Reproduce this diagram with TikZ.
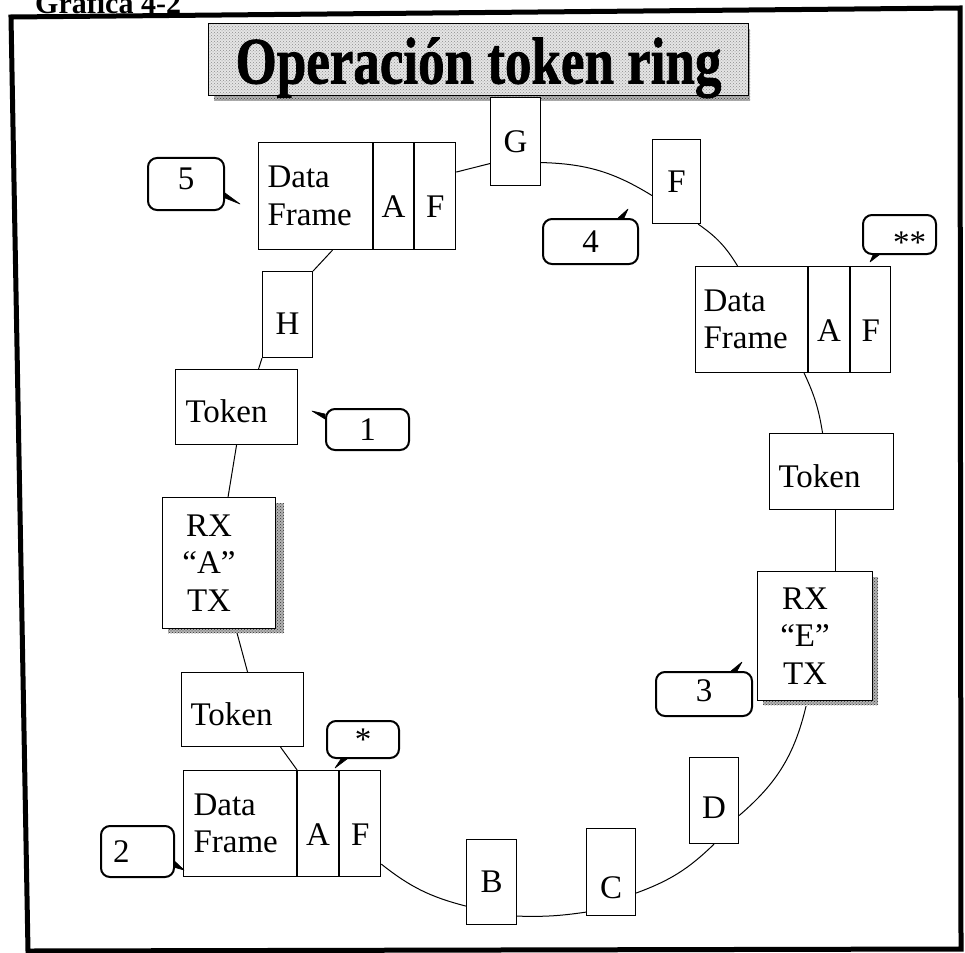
\documentclass[tikz,border=0pt]{standalone}
\usepackage{fontspec}
\usepackage{graphicx}
\setmainfont{Liberation Serif}
\newfontfamily\ttlfam[BoldFeatures={FakeBold=1.3}]{Liberation Serif}
\usetikzlibrary{patterns,calc}
\newcommand\bxfont{\fontsize{33}{37.5}\selectfont}
\newcommand\ttlfont{\ttlfam\bfseries\fontsize{53}{60}\selectfont}
\begin{document}
\begin{tikzpicture}[x=1pt,y=-1pt,
 box/.style={draw, line width=1.1pt, fill=white, inner sep=0pt, font=\bxfont, anchor=north west},
 cell/.style={box, minimum height=106pt, text height=43.8pt, text depth=0pt},
 tokbox/.style={box, text height=31.8pt, text depth=0pt, align=left},
 dfbox/.style={box, minimum height=106pt, align=left},
 rxbox/.style={box, align=center, text width=93pt},
 bubble/.style={draw, line width=2pt, rounded corners=9pt, fill=white, inner sep=0pt, font=\bxfont, anchor=north west},
 link/.style={line width=1pt},
 tailfill/.style={fill=black, draw=black, line width=0.6pt, line join=round},
 stipple/.style={pattern=crosshatch dots, pattern color=black!80, preaction={fill=black!30}},
]
\useasboundingbox (0,0) rectangle (965,952);
\clip (0,0) rectangle (965,952);
\fill[white] (0,0) rectangle (965,952);

% heading
\node[font=\bfseries\fontsize{30}{36}\selectfont, anchor=base west, inner sep=0pt] (grafica) at (35,14) {Gráfica 4-2};

% title
\fill[stipple] (214,29) rectangle (750,101);
\node[draw, line width=1pt, anchor=north west, minimum width=540pt, minimum height=72pt, inner sep=0pt,
      pattern=crosshatch dots, pattern color=black!45, preaction={fill=black!10},
      text height=48pt, text depth=0pt] (title) at (208,23) {\ttlfont\scalebox{1}[1.25]{Operación token ring}};

% ring boxes
\node[box, minimum width=50pt, minimum height=88pt] (G) at (490,97) {G};
\node[box, minimum width=48pt, minimum height=84pt] (F1) at (652,139) {F};

\node[dfbox, minimum width=112pt, text width=96pt] (dfR) at (695,266) {Data\\Frame};
\node[cell, minimum width=41pt] (dfRa) at (dfR.north east) {A};
\node[cell, minimum width=40pt] (dfRf) at (dfRa.north east) {F};

\node[tokbox, minimum width=124pt, minimum height=76pt, text width=106pt] (tokR) at (769,433) {Token};

\fill[stipple] (763,577) rectangle (878,705);
\node[rxbox, minimum width=115pt, minimum height=129pt] (rxE) at (757,571)
  {\mbox{RX\hspace{20pt}}\\\mbox{“E”\hspace{20pt}}\\\mbox{TX\hspace{20pt}}};

\node[box, minimum width=49pt, minimum height=86pt, text height=35.8pt, text depth=0pt] (D) at (689,757) {D};
\node[box, minimum width=49pt, minimum height=87pt, text height=53.8pt, text depth=0pt] (C) at (586,828) {C};
\node[box, minimum width=50pt, minimum height=85pt] (B) at (466,839) {B};

\node[dfbox, minimum width=113pt, text width=93pt] (dfL) at (183,770) {Data\\Frame};
\node[cell, minimum width=41pt] (dfLa) at (dfL.north east) {A};
\node[cell, minimum width=41pt] (dfLf) at (dfLa.north east) {F};

\node[tokbox, minimum width=122pt, minimum height=74pt, text width=104pt] (tok2) at (181,672) {Token};

\fill[stipple] (168,503) rectangle (284,633);
\node[rxbox, minimum width=113pt, minimum height=131pt] (rxA) at (162,497)
  {\mbox{RX\hspace{20pt}}\\\mbox{“A”\hspace{20pt}}\\\mbox{TX\hspace{20pt}}};

\node[tokbox, minimum width=122pt, minimum height=75pt, text width=102pt] (tok1) at (175,369) {Token};
\node[box, minimum width=50pt, minimum height=86pt, text height=39.8pt, text depth=0pt] (H) at (262,271) {H};

\node[dfbox, minimum width=114pt, minimum height=107pt, text width=96pt] (dfT) at (258,142) {Data\\Frame};
\node[cell, minimum width=40pt, minimum height=107pt] (dfTa) at (dfT.north east) {A};
\node[cell, minimum width=41pt, minimum height=107pt] (dfTf) at (dfTa.north east) {F};

% ring connectors (clockwise)
\draw[link] ([yshift=-21pt]G.east) to[bend left=15] ([yshift=-14pt]F1.west);
\draw[link] ([xshift=-3pt]F1.south east) to[bend left=12] ([xshift=-14pt]dfR.north);
\draw[link] ([xshift=-4pt]dfR.south east) to[bend left=8] ([xshift=-9pt]tokR.north);
\draw[link] ([xshift=4pt]tokR.south) -- ([xshift=4pt]tokR.south |- rxE.north);
\draw[link] ([xshift=-9pt,yshift=-5pt]rxE.south) to[bend left=18] ([yshift=-15pt]D.east);
\draw[link] (D.south) to[bend left=12] ([yshift=-21pt]C.east);
\draw[link] ([yshift=4pt]C.south west) to[bend left=5] ([yshift=9pt]B.south east);
\draw[link] ([yshift=19pt]B.south west) to[bend left=12] ([yshift=13pt]dfLf.south east);
\draw[link] (dfL.north east) -- ([xshift=38pt]tok2.south);
\draw[link] ([xshift=5pt]tok2.north) -- ([xshift=18pt,yshift=-4pt]rxA.south);
\draw[link] ([xshift=9pt]rxA.north) -- (tok1.south);
\draw[link] ([xshift=22pt]tok1.north) -- (H.south west);
\draw[link] (H.north east) -- ([xshift=17pt]dfT.south);
\draw[link] ([yshift=24pt]dfTf.east) -- ([yshift=-22pt]G.west);

% callouts
\node[bubble, minimum width=76pt, minimum height=52pt, text height=11.8pt, text depth=0pt] (c5) at (147,157) {5};
\node[bubble, minimum width=95pt, minimum height=45pt] (c4) at (542,218) {4};
\node[bubble, minimum width=73pt, minimum height=39pt, text width=53pt, align=right] (css) at (862,214) {\smash{\raisebox{-19pt}{**}}};
\node[bubble, minimum width=83pt, minimum height=41pt] (c1) at (325,408) {1};
\node[bubble, minimum width=72pt, minimum height=37pt] (cs) at (326,720) {*};
\node[bubble, minimum width=96pt, minimum height=44pt, text height=15.8pt, text depth=0pt] (c3) at (655,671) {3};
\node[bubble, minimum width=73pt, minimum height=51pt, text width=49pt, align=left] (c2) at (100,825) {2};

\coordinate (t5) at (240,204);
\coordinate (t4) at (628,209);
\coordinate (tss) at (870,262);
\coordinate (t1) at (312,411);
\coordinate (ts) at (335,768);
\coordinate (t3) at (742,662);
\coordinate (t2) at (184,870);
\filldraw[tailfill] ([yshift=-9pt]c5.east) -- (t5) -- ([yshift=-14pt]c5.east) -- cycle;
\filldraw[tailfill] ([xshift=-21pt]c4.north east) -- (t4) -- ([xshift=-15pt]c4.north east) -- cycle;
\filldraw[tailfill] ([xshift=11pt]css.south west) -- (tss) -- ([xshift=17pt]css.south west) -- cycle;
\filldraw[tailfill] ([yshift=-6pt]c1.north west) -- (t1) -- ([yshift=-11pt]c1.north west) -- cycle;
\filldraw[tailfill] ([xshift=15pt]cs.south west) -- (ts) -- ([xshift=21pt]cs.south west) -- cycle;
\filldraw[tailfill] ([xshift=-22pt]c3.north east) -- (t3) -- ([xshift=-16pt]c3.north east) -- cycle;
\filldraw[tailfill] ([yshift=-10pt]c2.east) -- (t2) -- ([yshift=-16pt]c2.east) -- cycle;

% outer frame
\draw[line width=5pt, line join=miter] (11,17) -- (960,8) -- (961,949) -- (28,951) -- cycle;
\end{tikzpicture}
\end{document}
